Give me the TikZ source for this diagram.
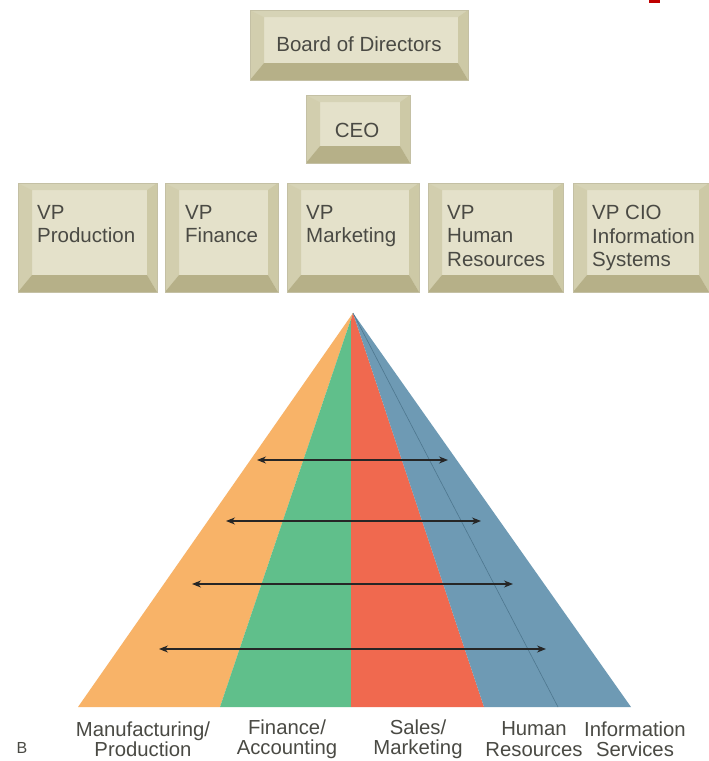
\documentclass[tikz,border=0pt]{standalone}
\usepackage{fontspec}
\setmainfont{Liberation Sans}
\usetikzlibrary{arrows.meta}

\definecolor{bvface}{HTML}{E4E1CA}
\definecolor{bvtop}{HTML}{D6D3B6}
\definecolor{bvleft}{HTML}{D2CEAE}
\definecolor{bvright}{HTML}{CDC9A6}
\definecolor{bvbottom}{HTML}{B6B088}
\definecolor{bvedge}{HTML}{C4C0A4}
\definecolor{txt}{HTML}{4A4A44}
\definecolor{porange}{HTML}{F8B368}
\definecolor{pgreen}{HTML}{60BF8B}
\definecolor{pred}{HTML}{F0694F}
\definecolor{pblue}{HTML}{6E9AB4}
\definecolor{pline}{HTML}{4E778F}

% beveled key-cap box: #1,#2 = top left corner, #3,#4 = bottom right corner
\newcommand\bevbox[4]{%
  \fill[bvface] (#1,#2) rectangle (#3,#4);
  \fill[bvtop] (#1,#2) -- (#3,#2) -- (#3-10,#2+7) -- (#1+14,#2+7) -- cycle;
  \fill[bvleft] (#1,#2) -- (#1+14,#2+7) -- (#1+14,#4-17) -- (#1,#4) -- cycle;
  \fill[bvright] (#3,#2) -- (#3-10,#2+7) -- (#3-10,#4-17) -- (#3,#4) -- cycle;
  \fill[bvbottom] (#1,#4) -- (#3,#4) -- (#3-10,#4-17) -- (#1+14,#4-17) -- cycle;
  \draw[bvedge, line width=0.8pt] (#1,#2) rectangle (#3,#4);
}

\tikzset{
  boxtext/.style={text=txt, font=\fontsize{20.5}{23.5}\selectfont, inner sep=0pt},
  vptext/.style={boxtext, anchor=north west, align=left},
  baselabel/.style={text=txt, font=\fontsize{20.3}{20.5}\selectfont, align=center, inner sep=0pt},
  linkarrow/.style={{Stealth[length=9pt,width=7pt]}-{Stealth[length=9pt,width=7pt]}, line width=1.1pt, black!85}
}

\begin{document}
\begin{tikzpicture}[x=1pt, y=-1pt]
\useasboundingbox (0,0) rectangle (709,761);
\fill[white] (0,0) rectangle (709,761);
\fill[red!75!black] (649,0) rectangle (660,3);

% organisation chart
\bevbox{250}{10}{468}{80}
\node[boxtext] (board) at (359,44) {Board of Directors};
\bevbox{306}{95}{410}{163}
\node[boxtext] (ceo) at (357,130) {CEO};

\bevbox{18}{183}{157}{292}
\node[vptext] (vpprod) at (37,205) {VP\\Production};
\bevbox{165}{183}{278}{292}
\node[vptext] (vpfin) at (185,205) {VP\\Finance};
\bevbox{287}{183}{419}{292}
\node[vptext] (vpmkt) at (306,205) {VP\\Marketing};
\bevbox{428}{183}{563}{292}
\node[vptext] (vphr) at (447,205) {VP\\Human\\Resources};
\bevbox{573}{183}{709}{292}
\node[vptext] (vpcio) at (592,205) {VP CIO\\Information\\Systems};

% functional pyramid
\coordinate (apex) at (353,313);
\fill[porange] (apex) -- (78,707) -- (220,707) -- cycle;
\fill[pgreen] (apex) -- (220,707) -- (351,707) -- (351,320) -- cycle;
\fill[pred] (apex) -- (351,320) -- (351,707) -- (484,707) -- cycle;
\fill[pblue] (apex) -- (484,707) -- (631,707) -- cycle;
\draw[pline, line width=0.6pt] (apex) -- (558,707);

% cross-functional links
\coordinate (a1l) at (257,460); \coordinate (a1r) at (448,460);
\coordinate (a2l) at (226,521); \coordinate (a2r) at (481,521);
\coordinate (a3l) at (192,584); \coordinate (a3r) at (513,584);
\coordinate (a4l) at (159,649); \coordinate (a4r) at (546,649);
\draw[linkarrow] (a1l) -- (a1r);
\draw[linkarrow] (a2l) -- (a2r);
\draw[linkarrow] (a3l) -- (a3r);
\draw[linkarrow] (a4l) -- (a4r);

% functional areas
\node[baselabel] (lmfg) at (143,739) {Manufacturing/\\Production};
\node[baselabel] (lfin) at (287,739) {Finance/\\Accounting};
\node[baselabel] (lsal) at (418,739) {Sales/\\Marketing};
\node[baselabel] (lhr) at (534,739) {Human\\Resources};
\node[baselabel] (lis) at (635,739) {Information\\Services};
\node[text=txt, font=\fontsize{16}{18}\selectfont, inner sep=0pt] (tag) at (22,748) {B};
\end{tikzpicture}
\end{document}
